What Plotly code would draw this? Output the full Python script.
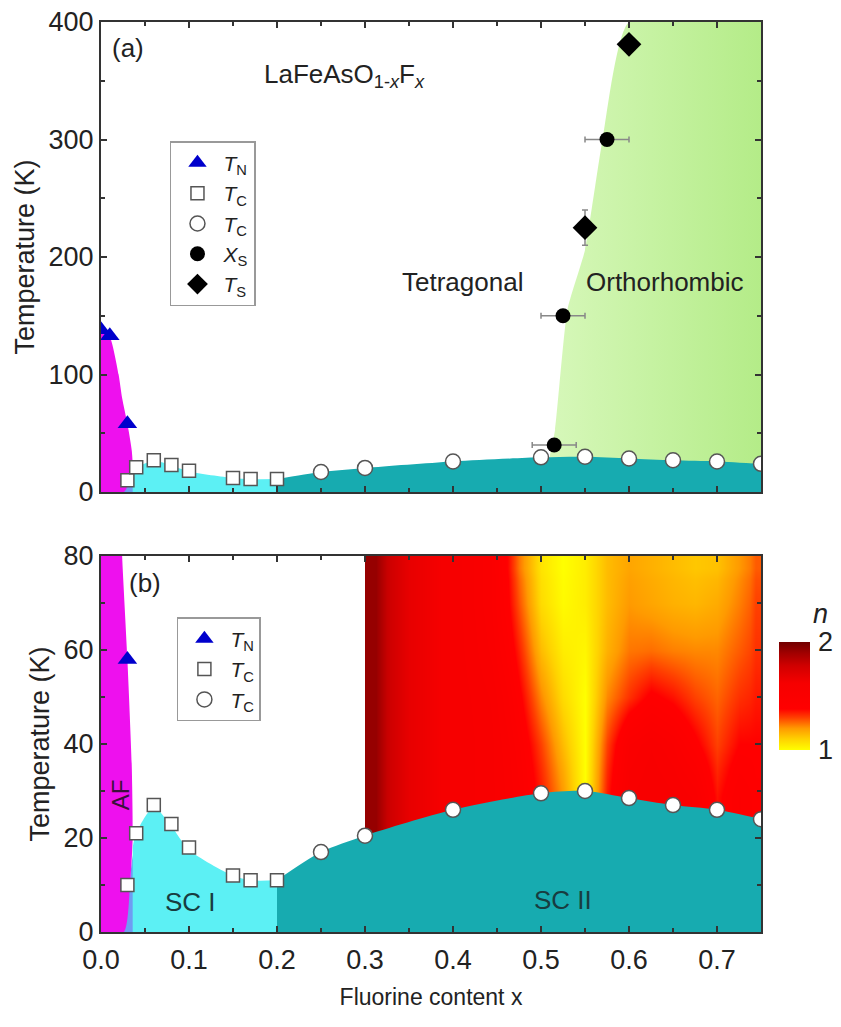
import plotly.graph_objects as go

# ---------------- data ----------------
# Neel temperature T_N (blue triangles)
tn_x = [0.0, 0.01, 0.03]
tn_T = [138, 133, 58]
# Tc, open squares (SC I)
sq_x = [0.03, 0.04, 0.06, 0.08, 0.10, 0.15, 0.17, 0.20]
sq_T = [10, 21, 27, 23, 18, 12, 11, 11]
# Tc, open circles (SC II)
ci_x = [0.25, 0.30, 0.40, 0.50, 0.55, 0.60, 0.65, 0.70, 0.75]
ci_T = [17, 20.5, 26, 29.5, 30, 28.5, 27, 26, 24]
# structural transition from chi (filled circles) with x error
xs_x = [0.515, 0.525, 0.575]
xs_T = [40, 150, 300]
xs_err = [0.025, 0.025, 0.025]
# structural transition T_S (diamonds)
ts_x = [0.55, 0.60]
ts_T = [225, 381]
ts_err = [15, 0]

# phase boundaries
af_x = [0.0, 0.01, 0.02, 0.024, 0.03, 0.035, 0.036, 0.033, 0.026]
af_T = [138, 132, 100, 80, 58, 35, 20, 10, 0]
blue_x = [0.022, 0.031, 0.035, 0.038, 0.038]
blue_T = [0, 8, 15, 18, 0]
sc1_x = [0.036, 0.04, 0.06, 0.08, 0.10, 0.15, 0.17, 0.20]
sc1_T = [18, 21, 26.5, 22.5, 17.5, 12, 11, 11]
ortho_x = [0.508, 0.51, 0.516, 0.53, 0.55, 0.57, 0.60]
ortho_T = [0, 30, 53, 155, 206, 300, 400]

# exponent n map (panel b)
n_x = [0.30, 0.35, 0.40, 0.45, 0.475, 0.50, 0.525, 0.55, 0.575, 0.60,
       0.625, 0.65, 0.675, 0.70, 0.725, 0.75]
n_T = [15, 30, 40, 50, 60, 70, 80]
n_z = [
    [1.92, 1.68, 1.6, 1.56, 1.48, 1.35, 1.2, 1.0, 1.35, 1.55, 1.58, 1.56, 1.52, 1.36, 1.45, 1.4],
    [1.92, 1.68, 1.6, 1.56, 1.48, 1.35, 1.2, 1.0, 1.35, 1.55, 1.58, 1.56, 1.52, 1.36, 1.45, 1.4],
    [1.92, 1.68, 1.6, 1.56, 1.45, 1.3, 1.14, 1.0, 1.3, 1.5, 1.55, 1.5, 1.4, 1.3, 1.38, 1.38],
    [1.92, 1.68, 1.6, 1.55, 1.4, 1.22, 1.08, 1.0, 1.22, 1.32, 1.4, 1.36, 1.3, 1.26, 1.32, 1.35],
    [1.92, 1.68, 1.6, 1.52, 1.34, 1.14, 1.04, 1.02, 1.16, 1.24, 1.25, 1.23, 1.22, 1.22, 1.27, 1.32],
    [1.92, 1.68, 1.6, 1.5, 1.28, 1.08, 1.01, 1.04, 1.14, 1.2, 1.18, 1.16, 1.15, 1.17, 1.23, 1.3],
    [1.92, 1.68, 1.6, 1.5, 1.24, 1.06, 1.0, 1.04, 1.14, 1.18, 1.16, 1.14, 1.12, 1.13, 1.2, 1.27],
]

x_ticks = [0.0, 0.1, 0.2, 0.3, 0.4, 0.5, 0.6, 0.7]

# ---------------- styling ----------------
FONT = "Arial, Liberation Sans, sans-serif"
TXT = "#222222"
MAGENTA = "#ee10ee"
CYAN = "#5cf0f4"
TEAL = "#17abb0"
BLUE_S = "#6f9cf2"
TRI = "#0000cc"

n_scale = [
    [0.00, "#ffff00"], [0.10, "#ffd200"], [0.20, "#ff9a00"], [0.30, "#ff4000"],
    [0.38, "#ff0000"], [0.62, "#f60000"], [0.78, "#d00000"], [0.90, "#a00000"],
    [1.00, "#700000"],
]


def edges(c):
    return [c[0]] + [(a + b) / 2 for a, b in zip(c[:-1], c[1:])] + [c[-1]]


fig = go.Figure()


def add_regions(xa, ya):
    fig.add_trace(go.Scatter(x=blue_x, y=blue_T, fill="toself", fillcolor=BLUE_S,
                             line=dict(width=0), mode="lines", xaxis=xa, yaxis=ya,
                             showlegend=False, hoverinfo="skip"))
    fig.add_trace(go.Scatter(x=af_x + [0.0], y=af_T + [0], fill="toself", fillcolor=MAGENTA,
                             line=dict(width=0, shape="spline", smoothing=0.6), mode="lines",
                             xaxis=xa, yaxis=ya, showlegend=False, hoverinfo="skip"))
    fig.add_trace(go.Scatter(x=sc1_x, y=sc1_T, fill="tozeroy", fillcolor=CYAN,
                             line=dict(width=0, shape="spline", smoothing=0.8), mode="lines",
                             xaxis=xa, yaxis=ya, showlegend=False, hoverinfo="skip"))
    fig.add_trace(go.Scatter(x=[sq_x[-1]] + ci_x, y=[sq_T[-1]] + ci_T, fill="tozeroy",
                             fillcolor=TEAL,
                             line=dict(width=0, shape="spline", smoothing=0.8), mode="lines",
                             xaxis=xa, yaxis=ya, showlegend=False, hoverinfo="skip"))


def add_markers(xa, ya, leg, full):
    fig.add_trace(go.Scatter(x=tn_x, y=tn_T, mode="markers", name="<i>T</i><sub>N</sub>",
                             marker=dict(symbol="triangle-up", size=17, color=TRI),
                             xaxis=xa, yaxis=ya, legend=leg))
    fig.add_trace(go.Scatter(x=sq_x, y=sq_T, mode="markers", name="<i>T</i><sub>C</sub>",
                             marker=dict(symbol="square", size=13, color="white",
                                         line=dict(color="#555555", width=1.5)),
                             xaxis=xa, yaxis=ya, legend=leg))
    fig.add_trace(go.Scatter(x=ci_x, y=ci_T, mode="markers", name="<i>T</i><sub>C</sub>",
                             marker=dict(symbol="circle", size=15, color="white",
                                         line=dict(color="#555555", width=1.5)),
                             xaxis=xa, yaxis=ya, legend=leg))
    if full:
        fig.add_trace(go.Scatter(x=xs_x, y=xs_T, mode="markers", name="<i>X</i><sub>S</sub>",
                                 marker=dict(symbol="circle", size=15, color="black"),
                                 error_x=dict(type="data", array=xs_err, color="#888888",
                                              thickness=1.5, width=3),
                                 xaxis=xa, yaxis=ya, legend=leg))
        fig.add_trace(go.Scatter(x=ts_x, y=ts_T, mode="markers", name="<i>T</i><sub>S</sub>",
                                 marker=dict(symbol="diamond", size=19, color="black"),
                                 error_y=dict(type="data", array=ts_err, color="#888888",
                                              thickness=1.5, width=3),
                                 xaxis=xa, yaxis=ya, legend=leg))


# ---------- panel (a) ----------
fig.add_trace(go.Scatter(x=ortho_x + [0.75, 0.75], y=ortho_T + [400, 0], fill="toself",
                         fillgradient=dict(type="horizontal", start=0.5, stop=0.75,
                                           colorscale=[[0, "#d8f8bc"], [1, "#b4ec88"]]),
                         line=dict(width=0, shape="spline", smoothing=0.5), mode="lines",
                         xaxis="x", yaxis="y", showlegend=False, hoverinfo="skip"))
add_regions("x", "y")
add_markers("x", "y", "legend", True)

# ---------- panel (b) ----------
fig.add_trace(go.Heatmap(x=edges(n_x), y=edges(n_T), z=n_z, zsmooth="best",
                         colorscale=n_scale, zmin=1, zmax=2, xaxis="x2", yaxis="y2",
                         colorbar=dict(x=1.027, xanchor="left", xpad=0, ypad=0,
                                       y=0.2593, yanchor="middle",
                                       len=0.1187, lenmode="fraction", thickness=31,
                                       outlinewidth=0, tickvals=[1, 2], ticktext=["1", "2"],
                                       ticks="outside", ticklen=3,
                                       tickcolor="rgba(0,0,0,0)",
                                       tickfont=dict(size=27, color=TXT, family=FONT)),
                         hoverinfo="skip"))
add_regions("x2", "y2")
add_markers("x2", "y2", "legend2", False)

axis_common = dict(showline=True, linewidth=2, linecolor="#333333", mirror="allticks",
                   ticks="inside", ticklen=6, tickwidth=1.5, tickcolor="#333333",
                   showgrid=False, zeroline=False, ticklabeloverflow="allow",
                   tickfont=dict(size=27, color=TXT, family=FONT))

# the page body adds an 8px offset, so the figure is 8px smaller and margins shifted
fig.update_layout(
    width=833, height=1019,
    margin=dict(l=93, r=80, t=14, b=95, autoexpand=False),
    paper_bgcolor="white", plot_bgcolor="white",
    font=dict(family=FONT, color=TXT),
    xaxis=dict(domain=[0, 1], anchor="y", range=[0, 0.75], tickvals=x_ticks,
               showticklabels=False,
               minor=dict(dtick=0.05, ticks="inside", ticklen=4, tickcolor="#333333"),
               **axis_common),
    yaxis=dict(domain=[0.4835, 1], anchor="x", range=[0, 400], dtick=100,
               minor=dict(dtick=50, ticks="inside", ticklen=4, tickcolor="#333333"),
               title=dict(text="Temperature (K)", font=dict(size=27, color=TXT), standoff=6),
               **axis_common),
    xaxis2=dict(domain=[0, 1], anchor="y2", range=[0, 0.75], tickvals=x_ticks,
                tickformat=".1f", ticklabelstandoff=3,
                minor=dict(dtick=0.05, ticks="inside", ticklen=4, tickcolor="#333333"),
                title=dict(text="Fluorine content x", font=dict(size=23, color=TXT), standoff=14),
                **axis_common),
    yaxis2=dict(domain=[0, 0.4132], anchor="x2", range=[0, 80], dtick=20,
                minor=dict(dtick=10, ticks="inside", ticklen=4, tickcolor="#333333"),
                title=dict(text="Temperature (K)", font=dict(size=27, color=TXT), standoff=6),
                **axis_common),
    legend=dict(x=0.1045, y=0.869, xanchor="left", yanchor="top", bordercolor="#999999",
                borderwidth=1.5, bgcolor="rgba(255,255,255,0)", itemwidth=42,
                font=dict(size=21, color=TXT, family=FONT), tracegroupgap=0),
    legend2=dict(x=0.115, y=0.346, xanchor="left", yanchor="top", bordercolor="#999999",
                 borderwidth=1.5, bgcolor="rgba(255,255,255,0)", itemwidth=42,
                 font=dict(size=21, color=TXT, family=FONT), tracegroupgap=0),
)

ann = [
    dict(text="(a)", x=0.041, y=0.945, xref="x domain", yref="y domain", size=26),
    dict(text="LaFeAsO<sub>1-<i>x</i></sub>F<sub><i>x</i></sub>", x=0.244, y=0.887,
         xref="x domain", yref="y domain", size=26, xanchor="left"),
    dict(text="Tetragonal", x=0.548, y=0.447, xref="x domain", yref="y domain", size=26),
    dict(text="Orthorhombic", x=0.855, y=0.447, xref="x domain", yref="y domain", size=26),
    dict(text="(b)", x=0.067, y=0.928, xref="x2 domain", yref="y2 domain", size=26),
    dict(text="AF", x=0.029, y=0.364, xref="x2 domain", yref="y2 domain", size=24,
         textangle=-90, color="#3a103a"),
    dict(text="SC I", x=0.135, y=0.08, xref="x2 domain", yref="y2 domain", size=26,
         color="#183c40"),
    dict(text="SC II", x=0.70, y=0.085, xref="x2 domain", yref="y2 domain", size=26,
         color="#183c40"),
    dict(text="<i>n</i>", x=1.09, y=0.349, xref="paper", yref="paper", size=27),
]
for a in ann:
    fig.add_annotation(text=a["text"], x=a["x"], y=a["y"], xref=a["xref"], yref=a["yref"],
                       xanchor=a.get("xanchor", "center"), yanchor="middle",
                       textangle=a.get("textangle", 0), showarrow=False,
                       font=dict(size=a["size"], color=a.get("color", TXT), family=FONT))

fig.write_html("out.html")
